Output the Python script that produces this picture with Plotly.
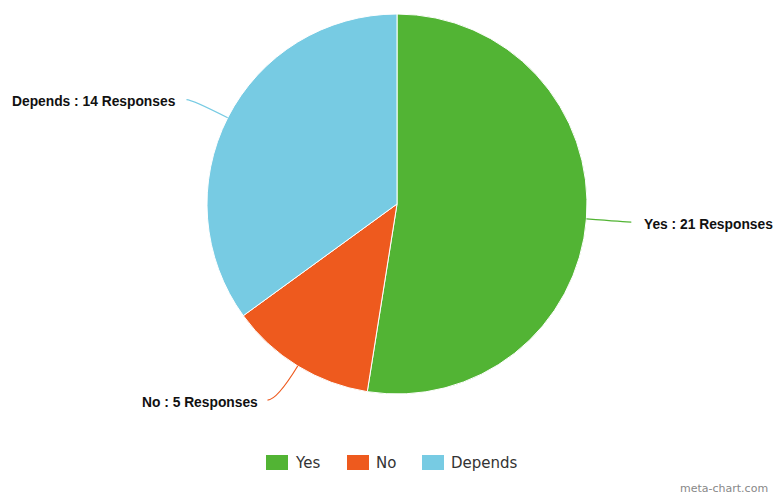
import math
import plotly.graph_objects as go

# ---- data ----
labels = ["Yes", "No", "Depends"]
values = [21, 5, 14]
label_texts = ["Yes : 21 Responses", "No : 5 Responses", "Depends : 14 Responses"]
colors = ["#52b434", "#ee5a1e", "#77cbe3"]

# ---- layout constants (pixels) ----
W, H = 776, 494
CX, CY, R = 397, 204, 190
LABEL_RY = 230   # radius used for label vertical position
LABEL_RX = 235   # radius used for label horizontal position


def px(x):
    return x / W


def py(y):
    return 1 - y / H


fig = go.Figure(
    go.Pie(
        labels=labels,
        values=values,
        sort=False,
        direction="clockwise",
        rotation=0,
        marker=dict(colors=colors, line=dict(color="#ffffff", width=1)),
        textinfo="none",
        hoverinfo="label+value+percent",
        domain=dict(x=[px(CX - R), px(CX + R)], y=[py(CY + R), py(CY - R)]),
        showlegend=False,
    )
)

shapes = []
annotations = []

# ---- data labels with connectors, positioned from the slice angles ----
total = sum(values)
cum = 0
for lab, val, txt, col in zip(labels, values, label_texts, colors):
    a = (cum + val / 2) / total * 2 * math.pi
    cum += val
    sa, ca = math.sin(a), math.cos(a)
    pxe, pye = CX + R * sa, CY - R * ca
    dy = LABEL_RY * ca
    ly = CY - dy
    side = 1 if sa >= 0 else -1
    dx = math.sqrt(max(LABEL_RX ** 2 - dy ** 2, 0))
    qx = CX + side * dx
    # control point: radial line from edge meets horizontal of label
    if abs(ca) > 1e-6:
        t = (ly - pye) / (-ca)
        cxp = pxe + t * sa
    else:
        cxp = qx
    if side * cxp > side * qx:
        cxp = qx
    path = "M {:.5f} {:.5f} Q {:.5f} {:.5f} {:.5f} {:.5f}".format(
        px(pxe), py(pye), px(cxp), py(ly), px(qx), py(ly)
    )
    shapes.append(dict(type="path", xref="paper", yref="paper", path=path,
                       line=dict(color=col, width=1.2)))
    gap = 11 if side > 0 else 8
    annotations.append(dict(
        x=px(qx + side * gap), y=py(ly + 2), xref="paper", yref="paper",
        text="<b>" + txt + "</b>", showarrow=False,
        xanchor="left" if side > 0 else "right", yanchor="middle",
        font=dict(family="Liberation Sans, Arial, sans-serif", size=13.8, color="#111111"),
    ))

# ---- custom legend ----
legend_x = [266, 347, 422]
for lab, col, lx in zip(labels, colors, legend_x):
    shapes.append(dict(type="rect", xref="paper", yref="paper",
                       x0=px(lx), x1=px(lx + 22), y0=py(470), y1=py(455),
                       fillcolor=col, line=dict(width=0)))
    annotations.append(dict(
        x=px(lx + 27), y=py(463), xref="paper", yref="paper", text=lab,
        showarrow=False, xanchor="left", yanchor="middle",
        font=dict(family="DejaVu Sans, sans-serif", size=15, color="#333333"),
    ))

# ---- credit ----
annotations.append(dict(
    x=px(770), y=py(488), xref="paper", yref="paper", text="meta-chart.com",
    showarrow=False, xanchor="right", yanchor="middle",
    font=dict(family="DejaVu Sans, sans-serif", size=11, color="#888888"),
))

fig.update_layout(
    width=W, height=H,
    margin=dict(l=0, r=0, t=0, b=0),
    paper_bgcolor="#ffffff",
    plot_bgcolor="#ffffff",
    shapes=shapes,
    annotations=annotations,
)

fig.write_html(
    "out.html",
    config={"displayModeBar": False},
    post_script="document.body.style.margin='0';document.body.style.overflow='hidden';",
)
